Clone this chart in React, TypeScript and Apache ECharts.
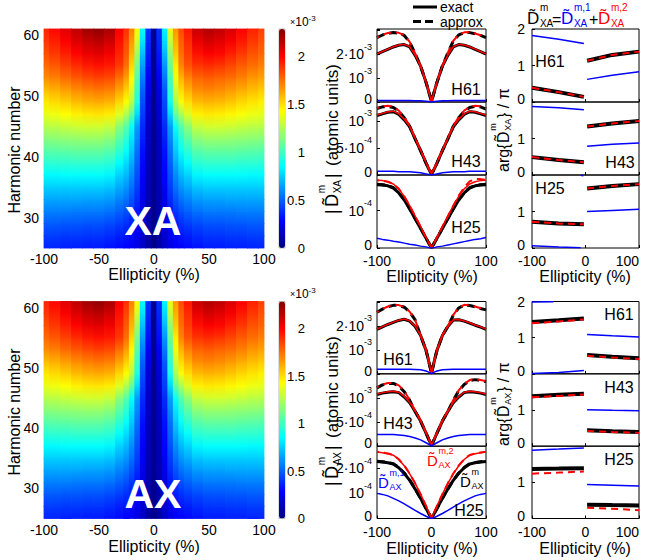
import React, { useEffect, useRef } from 'react';
import * as echarts from 'echarts';

const FONT = '"Liberation Sans", Arial, Helvetica, sans-serif';
const RED = '#ff0000';
const BLUE = '#0000ff';
const JET = ['#000080', '#0000ff', '#0080ff', '#00ffff', '#80ff80', '#ffff00', '#ff8000', '#ff0000', '#800000'];

// ---------------- heat maps: |D| in units of 1e-3 a.u. ----------------
const ellipticityCols = [-100, -90, -80, -70, -60, -50, -40, -30, -25, -20, -15, -10, -5, 0, 5, 10, 15, 20, 25, 30, 40, 50, 60, 70, 80, 90, 100];
const harmonicRows = [25, 27, 29, 31, 33, 35, 37, 39, 41, 43, 45, 47, 49, 51, 53, 55, 57, 59, 61];
const colorMax = 2.29;
const colorTicks = [0, 0.5, 1, 1.5, 2];

const xaMap = [
  [0.36, 0.36, 0.35, 0.35, 0.34, 0.34, 0.32, 0.30, 0.28, 0.26, 0.22, 0.16, 0.08, 0.03, 0.08, 0.16, 0.22, 0.26, 0.28, 0.30, 0.32, 0.34, 0.34, 0.35, 0.35, 0.36, 0.36],
  [0.42, 0.42, 0.41, 0.41, 0.40, 0.40, 0.38, 0.35, 0.33, 0.30, 0.25, 0.18, 0.09, 0.03, 0.09, 0.18, 0.25, 0.30, 0.33, 0.35, 0.38, 0.40, 0.40, 0.41, 0.41, 0.42, 0.42],
  [0.49, 0.49, 0.48, 0.48, 0.47, 0.47, 0.45, 0.42, 0.39, 0.35, 0.29, 0.20, 0.10, 0.03, 0.10, 0.20, 0.29, 0.35, 0.39, 0.42, 0.45, 0.47, 0.47, 0.48, 0.48, 0.49, 0.49],
  [0.57, 0.57, 0.57, 0.56, 0.56, 0.56, 0.54, 0.50, 0.46, 0.41, 0.33, 0.22, 0.10, 0.03, 0.10, 0.22, 0.33, 0.41, 0.46, 0.50, 0.54, 0.56, 0.56, 0.56, 0.57, 0.57, 0.57],
  [0.66, 0.66, 0.66, 0.66, 0.65, 0.65, 0.63, 0.58, 0.54, 0.47, 0.38, 0.24, 0.11, 0.04, 0.11, 0.24, 0.38, 0.47, 0.54, 0.58, 0.63, 0.65, 0.65, 0.66, 0.66, 0.66, 0.66],
  [0.75, 0.75, 0.75, 0.75, 0.75, 0.75, 0.73, 0.67, 0.62, 0.54, 0.42, 0.26, 0.12, 0.04, 0.12, 0.26, 0.42, 0.54, 0.62, 0.67, 0.73, 0.75, 0.75, 0.75, 0.75, 0.75, 0.75],
  [0.85, 0.85, 0.86, 0.86, 0.86, 0.86, 0.84, 0.76, 0.70, 0.60, 0.46, 0.28, 0.12, 0.04, 0.12, 0.28, 0.46, 0.60, 0.70, 0.76, 0.84, 0.86, 0.86, 0.86, 0.86, 0.85, 0.85],
  [0.95, 0.96, 0.96, 0.97, 0.97, 0.97, 0.95, 0.86, 0.78, 0.67, 0.50, 0.30, 0.13, 0.04, 0.13, 0.30, 0.50, 0.67, 0.78, 0.86, 0.95, 0.97, 0.97, 0.97, 0.96, 0.96, 0.95],
  [1.05, 1.06, 1.07, 1.08, 1.08, 1.08, 1.05, 0.96, 0.87, 0.74, 0.54, 0.32, 0.14, 0.04, 0.14, 0.32, 0.54, 0.74, 0.87, 0.96, 1.05, 1.08, 1.08, 1.08, 1.07, 1.06, 1.05],
  [1.16, 1.17, 1.18, 1.19, 1.20, 1.20, 1.17, 1.06, 0.95, 0.80, 0.59, 0.35, 0.15, 0.04, 0.15, 0.35, 0.59, 0.80, 0.95, 1.06, 1.17, 1.20, 1.20, 1.19, 1.18, 1.17, 1.16],
  [1.27, 1.28, 1.30, 1.32, 1.33, 1.33, 1.30, 1.17, 1.05, 0.88, 0.64, 0.38, 0.16, 0.04, 0.16, 0.38, 0.64, 0.88, 1.05, 1.17, 1.30, 1.33, 1.33, 1.32, 1.30, 1.28, 1.27],
  [1.38, 1.40, 1.43, 1.46, 1.48, 1.49, 1.47, 1.36, 1.25, 1.08, 0.78, 0.42, 0.18, 0.04, 0.18, 0.42, 0.77, 1.07, 1.24, 1.35, 1.46, 1.48, 1.47, 1.45, 1.42, 1.39, 1.37],
  [1.48, 1.51, 1.54, 1.58, 1.61, 1.62, 1.60, 1.52, 1.43, 1.26, 0.92, 0.46, 0.20, 0.04, 0.20, 0.45, 0.90, 1.24, 1.41, 1.50, 1.58, 1.60, 1.59, 1.56, 1.52, 1.49, 1.46],
  [1.58, 1.61, 1.65, 1.69, 1.72, 1.74, 1.72, 1.64, 1.54, 1.35, 0.98, 0.50, 0.23, 0.04, 0.23, 0.49, 0.96, 1.32, 1.51, 1.61, 1.69, 1.71, 1.69, 1.66, 1.62, 1.58, 1.55],
  [1.69, 1.72, 1.77, 1.81, 1.84, 1.86, 1.84, 1.76, 1.65, 1.44, 1.05, 0.57, 0.27, 0.05, 0.26, 0.55, 1.02, 1.40, 1.60, 1.71, 1.78, 1.80, 1.78, 1.76, 1.72, 1.67, 1.64],
  [1.77, 1.81, 1.86, 1.91, 1.95, 1.97, 1.95, 1.88, 1.76, 1.52, 1.12, 0.64, 0.32, 0.05, 0.31, 0.62, 1.09, 1.47, 1.71, 1.82, 1.89, 1.91, 1.89, 1.85, 1.80, 1.76, 1.72],
  [1.83, 1.88, 1.94, 2.00, 2.05, 2.07, 2.03, 1.93, 1.81, 1.60, 1.22, 0.72, 0.35, 0.05, 0.34, 0.70, 1.18, 1.55, 1.76, 1.87, 1.97, 2.01, 1.99, 1.94, 1.88, 1.82, 1.78],
  [1.88, 1.94, 2.01, 2.08, 2.13, 2.16, 2.11, 1.97, 1.85, 1.66, 1.33, 0.80, 0.38, 0.05, 0.37, 0.78, 1.29, 1.61, 1.79, 1.91, 2.05, 2.10, 2.07, 2.02, 1.95, 1.88, 1.82],
  [1.92, 1.99, 2.07, 2.15, 2.22, 2.25, 2.20, 2.02, 1.90, 1.72, 1.43, 0.86, 0.40, 0.05, 0.39, 0.83, 1.39, 1.67, 1.84, 1.96, 2.13, 2.18, 2.15, 2.09, 2.01, 1.93, 1.86],
];
// the AX map reads the same as the XA map
const axMap = xaMap;

// ---------------- |D| line panels ----------------
const midX = [-100, -90, -80, -70, -60, -50, -40, -30, -20, -10, -5, 0, 5, 10, 20, 30, 40, 50, 60, 70, 80, 90, 100];

// XA H61 (1e-3)
const xaH61Exact = [2.00, 2.10, 2.20, 2.30, 2.37, 2.40, 2.30, 1.95, 1.50, 0.82, 0.42, 0.03, 0.42, 0.82, 1.50, 1.95, 2.30, 2.40, 2.37, 2.30, 2.20, 2.10, 2.00];
const xaH61Approx = [2.69, 2.80, 2.87, 2.90, 2.88, 2.78, 2.50, 2.02, 1.50, 0.82, 0.42, 0.03, 0.42, 0.82, 1.50, 2.05, 2.55, 2.80, 2.90, 2.90, 2.85, 2.78, 2.69];
const xaH61Part2 = [2.01, 2.11, 2.21, 2.31, 2.38, 2.41, 2.31, 1.96, 1.51, 0.83, 0.43, 0.03, 0.43, 0.83, 1.51, 1.96, 2.31, 2.41, 2.38, 2.31, 2.21, 2.11, 2.01];
const xaH61Part2Approx = [2.70, 2.81, 2.88, 2.91, 2.89, 2.79, 2.51, 2.03, 1.51, 0.83, 0.43, 0.03, 0.43, 0.83, 1.51, 2.06, 2.56, 2.81, 2.91, 2.91, 2.86, 2.79, 2.70];
const xaH61Part1 = [0.06, 0.06, 0.06, 0.06, 0.06, 0.06, 0.06, 0.05, 0.05, 0.03, 0.02, 0.00, 0.02, 0.03, 0.05, 0.05, 0.06, 0.06, 0.06, 0.06, 0.06, 0.06, 0.06];
// XA H43 (1e-3)
const xaH43Exact = [1.10, 1.13, 1.16, 1.17, 1.12, 1.02, 0.89, 0.67, 0.45, 0.22, 0.11, 0.02, 0.11, 0.22, 0.45, 0.67, 0.89, 1.02, 1.12, 1.17, 1.16, 1.13, 1.10];
const xaH43Approx = [1.23, 1.26, 1.27, 1.25, 1.18, 1.06, 0.90, 0.67, 0.45, 0.22, 0.11, 0.02, 0.11, 0.22, 0.45, 0.67, 0.90, 1.06, 1.18, 1.25, 1.27, 1.26, 1.22];
const xaH43Part2 = [1.11, 1.14, 1.17, 1.18, 1.13, 1.03, 0.90, 0.68, 0.46, 0.23, 0.12, 0.02, 0.12, 0.23, 0.46, 0.68, 0.90, 1.03, 1.13, 1.18, 1.17, 1.14, 1.11];
const xaH43Part2Approx = [1.24, 1.27, 1.28, 1.26, 1.19, 1.07, 0.91, 0.68, 0.46, 0.23, 0.12, 0.02, 0.12, 0.23, 0.46, 0.68, 0.91, 1.07, 1.19, 1.26, 1.28, 1.27, 1.23];
const xaH43Part1 = [0.07, 0.07, 0.07, 0.07, 0.06, 0.06, 0.06, 0.05, 0.04, 0.02, 0.01, 0.00, 0.01, 0.02, 0.04, 0.05, 0.06, 0.06, 0.06, 0.07, 0.07, 0.07, 0.07];
// XA H25 (1e-4)
const xaH25Exact = [1.69, 1.68, 1.66, 1.60, 1.47, 1.28, 1.04, 0.78, 0.52, 0.26, 0.13, 0.01, 0.13, 0.26, 0.52, 0.78, 1.04, 1.28, 1.47, 1.60, 1.66, 1.68, 1.69];
const xaH25Approx = [1.70, 1.69, 1.67, 1.61, 1.48, 1.29, 1.05, 0.79, 0.53, 0.26, 0.13, 0.01, 0.13, 0.26, 0.53, 0.79, 1.05, 1.29, 1.48, 1.61, 1.67, 1.69, 1.70];
const xaH25Part2 = [1.81, 1.80, 1.77, 1.71, 1.58, 1.38, 1.13, 0.85, 0.57, 0.28, 0.14, 0.01, 0.14, 0.28, 0.57, 0.85, 1.13, 1.38, 1.58, 1.71, 1.77, 1.80, 1.81];
const xaH25Part2Approx = [1.81, 1.80, 1.77, 1.71, 1.58, 1.38, 1.13, 0.85, 0.57, 0.28, 0.14, 0.01, 0.14, 0.28, 0.57, 0.85, 1.13, 1.40, 1.62, 1.78, 1.84, 1.84, 1.82];
const xaH25Part1 = [0.26, 0.23, 0.21, 0.18, 0.16, 0.13, 0.10, 0.08, 0.05, 0.03, 0.01, 0.00, 0.01, 0.03, 0.05, 0.08, 0.11, 0.14, 0.17, 0.20, 0.23, 0.25, 0.28];
// AX H61 (1e-3)
const axH61Exact = [1.86, 1.96, 2.06, 2.15, 2.23, 2.28, 2.20, 1.98, 1.60, 0.98, 0.52, 0.03, 0.52, 0.98, 1.60, 1.98, 2.25, 2.26, 2.20, 2.12, 2.03, 1.95, 1.86];
const axH61Approx = [2.57, 2.70, 2.80, 2.86, 2.86, 2.78, 2.58, 2.25, 1.60, 0.98, 0.52, 0.03, 0.52, 0.98, 1.60, 1.98, 2.45, 2.75, 2.87, 2.85, 2.80, 2.73, 2.67];
const axH61Part2 = [1.87, 1.97, 2.07, 2.16, 2.24, 2.29, 2.21, 1.99, 1.61, 0.99, 0.53, 0.03, 0.53, 0.99, 1.61, 1.99, 2.26, 2.27, 2.21, 2.13, 2.04, 1.96, 1.87];
const axH61Part2Approx = [2.58, 2.71, 2.81, 2.87, 2.87, 2.79, 2.59, 2.26, 1.61, 0.99, 0.53, 0.03, 0.53, 0.99, 1.61, 1.99, 2.46, 2.76, 2.88, 2.86, 2.81, 2.74, 2.68];
const axH61Part1 = [0.19, 0.19, 0.19, 0.19, 0.19, 0.19, 0.19, 0.18, 0.17, 0.12, 0.07, 0.00, 0.07, 0.12, 0.17, 0.18, 0.19, 0.19, 0.19, 0.19, 0.19, 0.19, 0.19];
// AX H43 (1e-3)
const axH43Exact = [1.07, 1.10, 1.12, 1.13, 1.11, 1.02, 0.90, 0.72, 0.52, 0.27, 0.14, 0.02, 0.14, 0.27, 0.52, 0.72, 0.90, 1.02, 1.11, 1.13, 1.12, 1.10, 1.07];
const axH43Approx = [1.21, 1.27, 1.30, 1.30, 1.25, 1.13, 0.95, 0.72, 0.52, 0.27, 0.14, 0.02, 0.14, 0.27, 0.52, 0.72, 0.95, 1.15, 1.28, 1.36, 1.38, 1.36, 1.34];
const axH43Part2 = [1.08, 1.11, 1.13, 1.14, 1.12, 1.03, 0.91, 0.73, 0.53, 0.28, 0.15, 0.02, 0.15, 0.28, 0.53, 0.73, 0.91, 1.03, 1.12, 1.14, 1.13, 1.11, 1.08];
const axH43Part2Approx = [1.22, 1.28, 1.31, 1.31, 1.26, 1.14, 0.96, 0.73, 0.53, 0.28, 0.15, 0.02, 0.15, 0.28, 0.53, 0.73, 0.96, 1.16, 1.29, 1.37, 1.39, 1.37, 1.35];
const axH43Part1 = [0.24, 0.24, 0.24, 0.24, 0.23, 0.22, 0.20, 0.17, 0.13, 0.07, 0.04, 0.00, 0.04, 0.07, 0.13, 0.17, 0.20, 0.22, 0.23, 0.24, 0.24, 0.24, 0.24];
// AX H25 (1e-4)
const axH25Exact = [2.27, 2.25, 2.22, 2.17, 2.02, 1.80, 1.52, 1.17, 0.80, 0.40, 0.20, 0.01, 0.20, 0.40, 0.80, 1.17, 1.52, 1.80, 2.02, 2.17, 2.22, 2.25, 2.27];
const axH25Approx = [2.28, 2.26, 2.23, 2.18, 2.03, 1.81, 1.53, 1.18, 0.81, 0.40, 0.20, 0.01, 0.20, 0.40, 0.81, 1.18, 1.53, 1.81, 2.03, 2.18, 2.23, 2.26, 2.28];
const axH25Part2 = [2.65, 2.62, 2.58, 2.52, 2.35, 2.10, 1.78, 1.40, 0.97, 0.50, 0.25, 0.01, 0.25, 0.50, 0.97, 1.40, 1.78, 2.10, 2.35, 2.52, 2.58, 2.62, 2.65];
const axH25Part2Approx = [2.66, 2.63, 2.59, 2.53, 2.36, 2.11, 1.79, 1.40, 0.97, 0.50, 0.25, 0.01, 0.25, 0.50, 0.97, 1.40, 1.79, 2.11, 2.36, 2.53, 2.59, 2.63, 2.66];
const axH25Part1 = [1.00, 0.96, 0.90, 0.80, 0.70, 0.58, 0.45, 0.32, 0.20, 0.09, 0.04, 0.00, 0.04, 0.09, 0.20, 0.32, 0.45, 0.58, 0.70, 0.80, 0.90, 0.96, 1.00];

// ---------------- phase panels: arg/pi ----------------
const argLeftX = [-100, -50, -3];
const argRightX = [3, 50, 100];
const xaH61ArgBlueL = [1.82, 1.72, 1.60];
const xaH61ArgBlueR = [0.62, 0.73, 0.83];
const xaH61ArgTotalL = [0.39, 0.27, 0.14];
const xaH61ArgTotalR = [1.13, 1.29, 1.38];
const xaH43ArgBlueL = [1.88, 1.84, 1.79];
const xaH43ArgBlueR = [0.79, 0.84, 0.88];
const xaH43ArgTotalL = [0.49, 0.41, 0.35];
const xaH43ArgTotalR = [1.33, 1.41, 1.48];
const xaH25ArgBlueTailX = [-100, -50, -9];
const xaH25ArgBlueL = [0.06, 0.03, 0.01];
const xaH25ArgBlueWrapX = [-9, -4];
const xaH25ArgBlueWrap = [1.99, 1.98];
const xaH25ArgBlueR = [1.00, 1.03, 1.06];
const xaH25ArgTotalL = [0.72, 0.67, 0.65];
const xaH25ArgTotalR = [1.63, 1.70, 1.75];

const axH61ArgBlueWrapX = [-100, -60];
const axH61ArgBlueWrap = [1.985, 1.995];
const axH61ArgBlueL = [0.01, 0.04, 0.09];
const axH61ArgBlueR = [1.09, 1.05, 1.02];
const axH61ArgTotalL = [1.43, 1.48, 1.53];
const axH61ArgPart2L = [1.40, 1.45, 1.50];
const axH61ArgTotalR = [0.52, 0.47, 0.43];
const axH61ArgPart2R = [0.50, 0.45, 0.41];
const axH43ArgBlueR = [1.01, 0.99, 0.98];
const axH43ArgTotalL = [1.38, 1.42, 1.45];
const axH43ArgPart2L = [1.35, 1.39, 1.43];
const axH43ArgTotalR = [0.44, 0.41, 0.39];
const axH43ArgPart2R = [0.42, 0.39, 0.37];
const axH25ArgBlueL = [1.89, 1.92, 1.95];
const axH25ArgBlueR = [0.94, 0.92, 0.90];
const axH25ArgTotalL = [1.37, 1.38, 1.39];
const axH25ArgPart2L = [1.24, 1.27, 1.30];
const axH25ArgTotalR = [0.38, 0.37, 0.36];
const axH25ArgPart2R = [0.30, 0.27, 0.23];

// ---------------- helpers ----------------
// one band per pair of neighbouring harmonic rows, shaded between the two read values
function heatData(vals: number[][]) {
  const out: number[][] = [];
  const nc = ellipticityCols.length;
  for (let i = 0; i < harmonicRows.length - 1; i++) {
    ellipticityCols.forEach((e, j) => {
      const x0 = j === 0 ? e : (ellipticityCols[j - 1] + e) / 2;
      const x1 = j === nc - 1 ? e : (ellipticityCols[j + 1] + e) / 2;
      out.push([e, harmonicRows[i], vals[i][j], x0, x1, harmonicRows[i], harmonicRows[i + 1], vals[i + 1][j]]);
    });
  }
  return out;
}

function T(x: number, y: number, text: string, o: any = {}) {
  return {
    type: 'text',
    x,
    y,
    rotation: o.rot || 0,
    silent: true,
    z: 100,
    style: {
      text,
      fontSize: o.fs || 16,
      fontFamily: FONT,
      fontWeight: o.fw || 'normal',
      fill: o.color || '#000',
      align: o.align || 'center',
      verticalAlign: 'middle',
      rich: o.rich,
    },
  };
}

// D-tilde with a stacked superscript and subscript
function dsym(x: number, cy: number, sup: string, sub: string, color: string, fs: number) {
  const s = Math.round(fs * 0.58);
  return [
    T(x, cy, 'D\u0303', { fs, color, align: 'left' }),
    T(x + fs * 0.76, cy - fs * 0.6, sup, { fs: s, color, align: 'left' }),
    T(x + fs * 0.76, cy + fs * 0.3, sub, { fs: s, color, align: 'left' }),
  ];
}

function yLabelMid(x: number, y: number, sub: string) {
  return {
    type: 'group',
    x,
    y,
    rotation: Math.PI / 2,
    children: [
      T(0, 0, '|', { fs: 18, align: 'left' }),
      ...dsym(7, 0, 'm', sub, '#000', 18),
      T(36, 0, '|', { fs: 18, align: 'left' }),
      T(48, 0, '(atomic units)', { fs: 17, align: 'left' }),
    ],
  };
}

function yLabelArg(x: number, y: number, sub: string) {
  return {
    type: 'group',
    x,
    y,
    rotation: Math.PI / 2,
    children: [
      T(0, 0, 'arg{', { fs: 16, align: 'left' }),
      ...dsym(29, 0, 'm', sub, '#000', 16),
      T(54, 0, '} / π', { fs: 16, align: 'left' }),
    ],
  };
}

// "0" at the panel corner is lifted a little so it clears the x tick labels
const zeroStyle = { fontSize: 14, padding: [0, 0, 6, 0], fontFamily: FONT, color: '#000' };
const midRich = {
  z: zeroStyle,
  n: { fontSize: 14, lineHeight: 24, fontFamily: FONT, color: '#000' },
  e: { fontSize: 9, lineHeight: 12, verticalAlign: 'top', fontFamily: FONT, color: '#000' },
};

const fmt = (ticks: Record<string, string>) => (v: number) => {
  const k = String(Math.round(v * 100) / 100);
  return ticks[k] !== undefined ? ticks[k] : '';
};

function buildOption() {
  const grid: any[] = [];
  const xAxis: any[] = [];
  const yAxis: any[] = [];
  const series: any[] = [];
  const addGrid = (g: any) => {
    grid.push({ outerBoundsMode: 'none', containLabel: false, ...g });
    return grid.length - 1;
  };
  const axisText = { color: '#000', fontFamily: FONT, fontSize: 14 };
  const noLine = { show: false, onZero: false };
  const inTick = { show: true, inside: true, length: 3, lineStyle: { color: '#000', width: 1 } };

  // heat maps
  const heatPanels = [
    { top: 29, h: 219, map: xaMap },
    { top: 301.5, h: 217, map: axMap },
  ];
  heatPanels.forEach((hm) => {
    const gi = addGrid({ left: 44, top: hm.top, width: 220, height: hm.h });
    xAxis.push({
      gridIndex: gi, type: 'value', min: -100, max: 100, interval: 50,
      axisLine: noLine, axisTick: { show: false }, splitLine: { show: false },
      axisLabel: { ...axisText, margin: 4 },
    });
    yAxis.push({
      gridIndex: gi, type: 'value', min: 25, max: 61,
      axisLine: noLine, axisTick: { show: false }, splitLine: { show: false },
      axisLabel: { ...axisText, margin: 5, formatter: (v: number) => (v % 10 === 0 ? String(v) : '') },
    });
    series.push({
      type: 'custom',
      xAxisIndex: gi,
      yAxisIndex: gi,
      silent: true,
      dimensions: ['e', 'h', 'v', 'x0', 'x1', 'y0', 'y1', 'vTop'],
      encode: { x: 0, y: 1 },
      data: heatData(hm.map),
      renderItem: (params: any, api: any) => {
        const a = api.coord([api.value(3), api.value(6)]);
        const b = api.coord([api.value(4), api.value(5)]);
        const cBot = echarts.color.lerp(Math.min(1, api.value(2) / colorMax), JET);
        const cTop = echarts.color.lerp(Math.min(1, api.value(7) / colorMax), JET);
        return {
          type: 'rect',
          shape: { x: a[0] - 0.4, y: a[1] - 0.4, width: b[0] - a[0] + 0.8, height: b[1] - a[1] + 0.8 },
          style: {
            fill: new echarts.graphic.LinearGradient(0, 0, 0, 1, [
              { offset: 0, color: cTop },
              { offset: 1, color: cBot },
            ]),
          },
        };
      },
    });
  });

  // colour bar axes
  heatPanels.forEach((hm) => {
    const gi = addGrid({ left: 279, top: hm.top, width: 6, height: hm.h, show: true, borderColor: '#777', borderWidth: 0.5 });
    xAxis.push({ gridIndex: gi, type: 'value', show: false, min: 0, max: 1, axisLine: noLine });
    yAxis.push({
      gridIndex: gi, type: 'value', position: 'right', min: 0, max: colorMax, interval: 0.5,
      axisLine: noLine, axisTick: { show: false }, splitLine: { show: false },
      axisLabel: {
        color: '#000', fontFamily: FONT, fontSize: 13, margin: 20, align: 'right',
        formatter: (v: number) => (colorTicks.indexOf(v) >= 0 ? String(v) : ''),
      },
    });
  });

  // |D| panels
  const midPanels = [
    { top: 29, h: 73, max: 3.05, interval: 1, labels: false, ticks: { '0': '{z|0}', '1': '{n|10}{e|-3}', '2': '{n|2·10}{e|-3}' }, d: [xaH61Exact, xaH61Approx, xaH61Part2, xaH61Part2Approx, xaH61Part1] },
    { top: 102, h: 73, max: 1.35, interval: 0.5, labels: false, ticks: { '0': '{z|0}', '0.5': '{n|5·10}{e|-4}', '1': '{n|10}{e|-3}' }, d: [xaH43Exact, xaH43Approx, xaH43Part2, xaH43Part2Approx, xaH43Part1] },
    { top: 175, h: 73, max: 1.95, interval: 1, labels: true, ticks: { '0': '{z|0}', '1': '{n|10}{e|-4}' }, d: [xaH25Exact, xaH25Approx, xaH25Part2, xaH25Part2Approx, xaH25Part1] },
    { top: 301.5, h: 72.33, max: 3.02, interval: 1, labels: false, ticks: { '0': '{z|0}', '1': '{n|10}{e|-3}', '2': '{n|2·10}{e|-3}' }, d: [axH61Exact, axH61Approx, axH61Part2, axH61Part2Approx, axH61Part1] },
    { top: 373.83, h: 72.33, max: 1.5, interval: 0.5, labels: false, ticks: { '0': '{z|0}', '0.5': '{n|5·10}{e|-4}', '1': '{n|10}{e|-3}' }, d: [axH43Exact, axH43Approx, axH43Part2, axH43Part2Approx, axH43Part1] },
    { top: 446.17, h: 72.33, max: 2.88, interval: 1, labels: true, ticks: { '0': '{z|0}', '1': '{n|10}{e|-4}', '2': '{n|2·10}{e|-4}' }, d: [axH25Exact, axH25Approx, axH25Part2, axH25Part2Approx, axH25Part1] },
  ];
  const midStyles = [
    { color: '#000', width: 3 },
    { color: '#000', width: 3, type: [8, 5] },
    { color: RED, width: 1.5 },
    { color: RED, width: 2, type: [8, 5], dashOffset: 6 },
    { color: BLUE, width: 1.5 },
  ];
  midPanels.forEach((p) => {
    const gi = addGrid({ left: 377, top: p.top, width: 109, height: p.h, show: true, borderColor: '#000', borderWidth: 1 });
    xAxis.push({
      gridIndex: gi, type: 'value', min: -100, max: 100, interval: 100,
      axisLine: noLine, axisTick: inTick, splitLine: { show: false },
      axisLabel: { ...axisText, show: p.labels, margin: 6 },
    });
    yAxis.push({
      gridIndex: gi, type: 'value', min: 0, max: p.max, interval: p.interval,
      axisLine: noLine, axisTick: inTick, splitLine: { show: false },
      axisLabel: { color: '#000', fontFamily: FONT, margin: 5, formatter: fmt(p.ticks), rich: midRich },
    });
    p.d.forEach((ys, k) => {
      series.push({
        type: 'line', xAxisIndex: gi, yAxisIndex: gi, symbol: 'none', silent: true, clip: true,
        data: midX.map((x, i) => [x, ys[i]]),
        lineStyle: midStyles[k],
        itemStyle: { color: midStyles[k].color },
      });
    });
  });

  // arg panels
  const B = 'blue', K = 'black', R = 'red';
  const argPanels = [
    { top: 29, h: 73, topLabel: true, labels: false, segs: [
      [K, argLeftX, xaH61ArgTotalL], [K, argRightX, xaH61ArgTotalR], [R, argLeftX, xaH61ArgTotalL], [R, argRightX, xaH61ArgTotalR],
      [B, argLeftX, xaH61ArgBlueL], [B, argRightX, xaH61ArgBlueR]] },
    { top: 102, h: 73, topLabel: false, labels: false, segs: [
      [K, argLeftX, xaH43ArgTotalL], [K, argRightX, xaH43ArgTotalR], [R, argLeftX, xaH43ArgTotalL], [R, argRightX, xaH43ArgTotalR],
      [B, argLeftX, xaH43ArgBlueL], [B, argRightX, xaH43ArgBlueR]] },
    { top: 175, h: 73, topLabel: false, labels: true, segs: [
      [K, argLeftX, xaH25ArgTotalL], [K, argRightX, xaH25ArgTotalR], [R, argLeftX, xaH25ArgTotalL], [R, argRightX, xaH25ArgTotalR],
      [B, xaH25ArgBlueTailX, xaH25ArgBlueL], [B, xaH25ArgBlueWrapX, xaH25ArgBlueWrap], [B, argRightX, xaH25ArgBlueR]] },
    { top: 301.5, h: 72.33, topLabel: true, labels: false, segs: [
      [K, argLeftX, axH61ArgTotalL], [K, argRightX, axH61ArgTotalR], [R, argLeftX, axH61ArgPart2L], [R, argRightX, axH61ArgPart2R],
      [B, axH61ArgBlueWrapX, axH61ArgBlueWrap], [B, argLeftX, axH61ArgBlueL], [B, argRightX, axH61ArgBlueR]] },
    { top: 373.83, h: 72.33, topLabel: false, labels: false, segs: [
      [K, argLeftX, axH43ArgTotalL], [K, argRightX, axH43ArgTotalR], [R, argLeftX, axH43ArgPart2L], [R, argRightX, axH43ArgPart2R],
      [B, argRightX, axH43ArgBlueR]] },
    { top: 446.17, h: 72.33, topLabel: false, labels: true, segs: [
      [K, argLeftX, axH25ArgTotalL], [K, argRightX, axH25ArgTotalR], [R, argLeftX, axH25ArgPart2L], [R, argRightX, axH25ArgPart2R],
      [B, argLeftX, axH25ArgBlueL], [B, argRightX, axH25ArgBlueR]] },
  ];
  const argStyles: any = {
    black: { color: '#000', width: 4 },
    red: { color: RED, width: 2, type: [7, 5] },
    blue: { color: BLUE, width: 1.5 },
  };
  argPanels.forEach((p) => {
    const gi = addGrid({ left: 532, top: p.top, width: 107, height: p.h, show: true, borderColor: '#000', borderWidth: 1 });
    xAxis.push({
      gridIndex: gi, type: 'value', min: -100, max: 100, interval: 100,
      axisLine: noLine, axisTick: inTick, splitLine: { show: false },
      axisLabel: { ...axisText, show: p.labels, margin: 6, alignMaxLabel: 'right' },
    });
    yAxis.push({
      gridIndex: gi, type: 'value', min: 0, max: 2, interval: 1,
      axisLine: noLine, axisTick: inTick, splitLine: { show: false },
      axisLabel: {
        ...axisText, margin: 7, rich: { z: zeroStyle },
        formatter: (v: number) => (v === 0 ? '{z|0}' : v === 2 && !p.topLabel ? '' : String(v)),
      },
    });
    p.segs.forEach((s: any) => {
      const xs: number[] = s[1];
      const ys: number[] = s[2];
      series.push({
        type: 'line', xAxisIndex: gi, yAxisIndex: gi, symbol: 'none', silent: true, clip: true,
        data: xs.map((x, i) => [x, ys[i]]),
        lineStyle: argStyles[s[0]],
        itemStyle: { color: argStyles[s[0]].color },
      });
    });
  });

  // graphic texts
  const expRich = {
    a: { fontSize: 9, lineHeight: 16, fontFamily: FONT, color: '#000' },
    n: { fontSize: 12, lineHeight: 16, fontFamily: FONT, color: '#000' },
    e: { fontSize: 8, lineHeight: 9, verticalAlign: 'top', fontFamily: FONT, color: '#000' },
  };
  const elements: any[] = [
    T(153, 221, 'XA', { fs: 41, fw: 'bold', color: '#fff' }),
    T(153, 494, 'AX', { fs: 41, fw: 'bold', color: '#fff' }),
    T(290, 22, '{a|×}{n|10}{e|-3}', { align: 'left', rich: expRich }),
    T(290, 294, '{a|×}{n|10}{e|-3}', { align: 'left', rich: expRich }),
    // legend
    { type: 'line', silent: true, shape: { x1: 413, y1: 7, x2: 437, y2: 7 }, style: { stroke: '#000', lineWidth: 3 } },
    { type: 'line', silent: true, shape: { x1: 413, y1: 21.5, x2: 437, y2: 21.5 }, style: { stroke: '#000', lineWidth: 3, lineDash: [8, 4] } },
    T(440, 6.5, 'exact', { fs: 14, align: 'left' }),
    T(440, 22, 'approx', { fs: 14, align: 'left' }),
    // harmonic labels
    T(466, 89, 'H61'), T(466, 161, 'H43'), T(466, 227, 'H25'),
    T(550, 61, 'H61'), T(620, 162, 'H43'), T(550, 188, 'H25'),
    T(398, 359, 'H61'), T(398, 423, 'H43'), T(469, 510, 'H25'),
    T(619, 314, 'H61'), T(619, 387, 'H43'), T(619, 459, 'H25'),
    // axis names
    T(154, 274, 'Ellipticity (%)'), T(432, 276, 'Ellipticity (%)'), T(585, 276, 'Ellipticity (%)'),
    T(154, 546, 'Ellipticity (%)'), T(432, 548, 'Ellipticity (%)'), T(585, 548, 'Ellipticity (%)'),
    T(14, 150, 'Harmonic number', { rot: Math.PI / 2 }),
    T(14, 412, 'Harmonic number', { rot: Math.PI / 2 }),
    yLabelMid(332, 214, 'XA'),
    yLabelMid(332, 486, 'AX'),
    yLabelArg(503, 172, 'XA'),
    yLabelArg(503, 446, 'AX'),
    // title of phase column
    ...dsym(527, 18, 'm', 'XA', '#000', 17),
    T(552, 19, '=', { fs: 16, align: 'left' }),
    ...dsym(561, 18, 'm,1', 'XA', BLUE, 17),
    T(589, 19, '+', { fs: 16, align: 'left' }),
    ...dsym(598, 18, 'm,2', 'XA', RED, 17),
    // curve annotations in AX H25
    ...dsym(427, 460, 'm,2', 'AX', RED, 15),
    ...dsym(378, 482, 'm,1', 'AX', BLUE, 15),
    ...dsym(460, 481, 'm', 'AX', '#000', 15),
  ];

  return {
    animation: false,
    backgroundColor: '#fff',
    textStyle: { fontFamily: FONT },
    grid,
    xAxis,
    yAxis,
    visualMap: [
      { type: 'continuous', min: 0, max: colorMax, dimension: 2, seriesIndex: 0, inRange: { color: JET }, left: 279, top: 29, itemWidth: 6, itemHeight: 219, calculable: false, padding: 0, orient: 'vertical', hoverLink: false, show: true },
      { type: 'continuous', min: 0, max: colorMax, dimension: 2, seriesIndex: 1, inRange: { color: JET }, left: 279, top: 301.5, itemWidth: 6, itemHeight: 217, calculable: false, padding: 0, orient: 'vertical', hoverLink: false, show: true },
    ],
    series,
    graphic: { elements },
  };
}

export default function App() {
  const ref = useRef<HTMLDivElement>(null);
  useEffect(() => {
    document.body.style.margin = '0';
    const chart = echarts.init(ref.current as HTMLDivElement, undefined, { renderer: 'svg' });
    chart.setOption(buildOption() as any);
    return () => chart.dispose();
  }, []);
  return <div ref={ref} style={{ width: 646, height: 560 }} />;
}
